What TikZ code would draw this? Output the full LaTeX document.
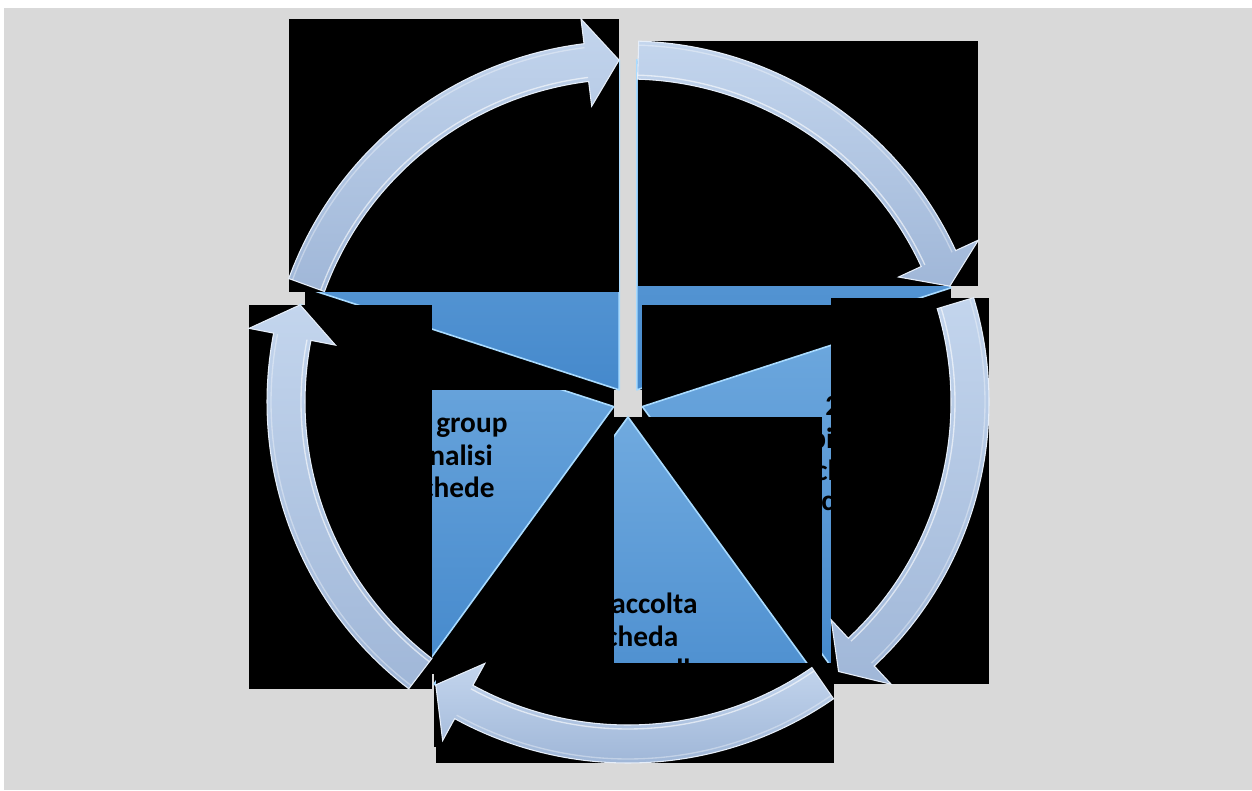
\documentclass[tikz,border=0pt]{standalone}
\usepackage{fontspec}
\setmainfont{Carlito}
\definecolor{bggray}{HTML}{D9D9D9}
\definecolor{wedgetop}{HTML}{70AADF}
\definecolor{wedgebot}{HTML}{4589CC}
\definecolor{wedgeedge}{HTML}{A9DBFF}
\definecolor{arrtop}{HTML}{C3D5ED}
\definecolor{arrbot}{HTML}{A0B7D8}
\definecolor{arredge}{HTML}{E6EEF9}
\newcommand\pieseg[4]{%
  \begin{scope}[shift={#2}]
    \begin{scope}[local bounding box=#1bb]
      \path (0,0) -- plot[domain=#3:#4,samples=60] (\x:330) -- cycle;
    \end{scope}
  \end{scope}
  \fill[black] (#1bb.south west) rectangle (#1bb.north east);
  \begin{scope}[shift={#2}]
    \path[wedgefill] (0,0) -- plot[domain=#3:#4,samples=60] (\x:330) -- cycle;
  \end{scope}}
\newcommand\cyclearrow[4]{%
  \begin{scope}[shift={(628,388)}]
    \begin{scope}[local bounding box=#1bb]
      \path (#2:361) -- plot[domain=#2:#3,samples=60] (\x:361) -- (#3:386) -- (#4:342)
        -- (#3:298) -- (#3:323) -- plot[domain=#3:#2,samples=60] (\x:323) -- cycle;
    \end{scope}
  \end{scope}
  \fill[black] (#1bb.south west) rectangle (#1bb.north east);
  \begin{scope}[shift={(628,388)}]
    \path[arrowfill] (#2:361) -- plot[domain=#2:#3,samples=60] (\x:361) -- (#3:386) -- (#4:342)
        -- (#3:298) -- (#3:323) -- plot[domain=#3:#2,samples=60] (\x:323) -- cycle;
    \draw[arrhl] plot[domain=#2:#3,samples=60] (\x:327);
    \draw[arrhl,opacity=0.35] plot[domain=#2:#3,samples=60] (\x:357);
  \end{scope}}
\begin{document}
\begin{tikzpicture}[x=0.75pt,y=0.75pt,
  wedgefill/.style={top color=wedgetop,bottom color=wedgebot,draw=wedgeedge,line width=1.2pt,line join=round},
  arrowfill/.style={top color=arrtop,bottom color=arrbot,draw=arredge,line width=0.8pt,line join=miter},
  arrhl/.style={draw=white,opacity=0.6,line width=1pt},
  lbl/.style={anchor=base west,inner sep=0pt,font=\bfseries\fontsize{22}{25}\selectfont,text=black}]
\fill[white] (0,0) rectangle (1252,790);
\fill[bggray] (4,0) rectangle (1252,782);
% pie segments
\pieseg{W1}{(636.8,400.1)}{18}{90}
\pieseg{W2}{(642.3,383.4)}{-54}{18}
\node[lbl] (t2a) at (825,375) {2};
\node[lbl] (t2b) at (810,342) {pi};
\node[lbl] (t2c) at (815,310) {ch};
\node[lbl] (t2d) at (821,280) {co};
\pieseg{W3}{(628,373)}{-126}{-54}
\node[lbl] (t3a) at (611,177) {accolta};
\node[lbl] (t3b) at (605,144) {cheda};
\node[lbl] (t3c) at (676,111) {ll};
\pieseg{W4}{(613.7,383.4)}{162}{234}
\node[lbl] (t4a) at (436,358) {group};
\node[lbl] (t4b) at (429,325) {nalisi};
\node[lbl] (t4c) at (421,293) {chede};
\pieseg{W5}{(619.2,400.1)}{90}{162}
% cycle arrows
\cyclearrow{A1}{160}{97}{91.5}
\cyclearrow{A2}{88.3}{24.8}{19.8}
\cyclearrow{A3}{16.8}{-47}{-52}
\cyclearrow{A4}{-55.3}{-118.7}{-124.2}
\cyclearrow{A5}{-127.4}{-191}{-196.5}
\end{tikzpicture}
\end{document}
